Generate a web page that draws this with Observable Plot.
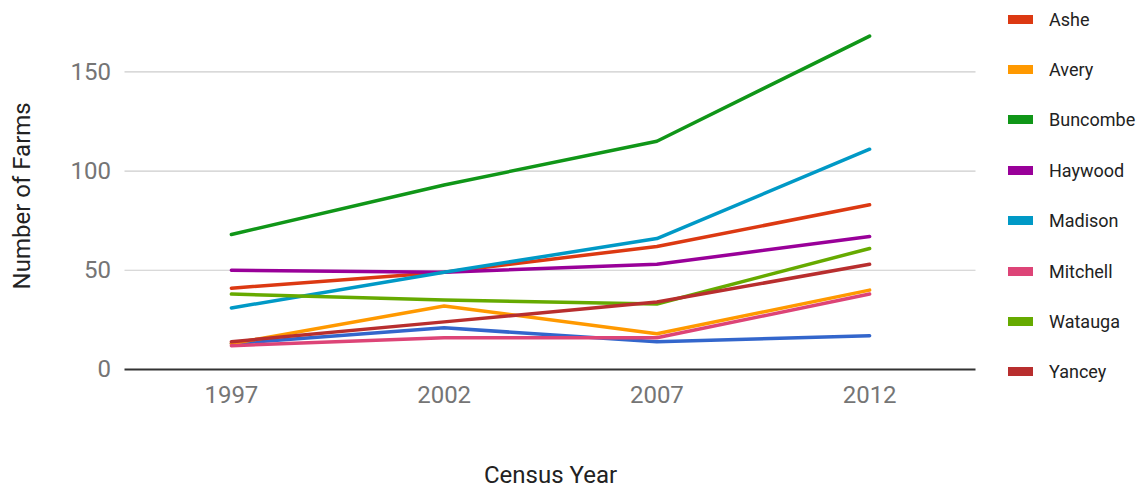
<!DOCTYPE html>
<html>
<head>
<meta charset="utf-8">
<script src="https://cdn.jsdelivr.net/npm/d3@7"></script>
<script src="https://cdn.jsdelivr.net/npm/@observablehq/plot@0.6"></script>
<style>
  html, body { margin: 0; padding: 0; background: #fff; }
  #wrap { position: relative; width: 1141px; height: 489px; font-family: Roboto, "Noto Sans", sans-serif; }
  #chart { position: absolute; left: 0; top: 0; }
  #legend { position: absolute; left: 1008px; top: 0; }
  .item { position: absolute; left: 0; height: 20px; display: flex; align-items: center; white-space: nowrap; }
  .swatch { width: 25px; height: 9px; margin-right: 16px; }
  .name { font-size: 18px; color: #222; }
</style>
</head>
<body>
<div id="wrap">
  <div id="chart"></div>
  <div id="legend"></div>
</div>
<script>
// Census years on the x axis
const years = [1997, 2002, 2007, 2012];

// Number of farms per county, one value per census year
const other    = [13, 21, 14, 17];
const ashe     = [41, 49, 62, 83];
const avery    = [13, 32, 18, 40];
const buncombe = [68, 93, 115, 168];
const haywood  = [50, 49, 53, 67];
const madison  = [31, 49, 66, 111];
const mitchell = [12, 16, 16, 38];
const watauga  = [38, 35, 33, 61];
const yancey   = [14, 24, 34, 53];

// Series in drawing order; the first one has no legend entry
const seriesNames = ["Other", "Ashe", "Avery", "Buncombe", "Haywood", "Madison", "Mitchell", "Watauga", "Yancey"];
const seriesValues = [other, ashe, avery, buncombe, haywood, madison, mitchell, watauga, yancey];
const legendNames = ["Ashe", "Avery", "Buncombe", "Haywood", "Madison", "Mitchell", "Watauga", "Yancey"];
const palette = ["#3366cc", "#dc3912", "#ff9900", "#109618", "#990099", "#0099c6", "#dd4477", "#66aa00", "#b82e2e"];

const yTicks = [0, 50, 100, 150];

const rows = seriesNames.flatMap((name, i) =>
  years.map((year, j) => ({county: name, year, farms: seriesValues[i][j]}))
);

const plot = Plot.plot({
  width: 990,
  height: 489,
  marginLeft: 124.5,
  marginRight: 14.5,
  marginTop: 21.7,
  marginBottom: 120,
  style: {fontFamily: "Roboto, 'Noto Sans', sans-serif", background: "#fff"},
  x: {domain: [1994.5, 2014.5]},
  y: {domain: [0, 175]},
  color: {domain: seriesNames, range: palette},
  marks: [
    Plot.gridY(yTicks.filter(d => d > 0), {stroke: "#cccccc", strokeOpacity: 1, strokeWidth: 1.2}),
    Plot.axisY(yTicks, {
      tickSize: 0, tickPadding: 14, fontSize: 24, color: "#757575",
      label: "Number of Farms", labelAnchor: "center", labelArrow: "none", labelOffset: 112
    }),
    Plot.axisX(years, {
      tickSize: 0, tickPadding: 16, fontSize: 24, color: "#757575", tickFormat: d => String(d),
      label: null
    }),
    Plot.text(["Census Year"], {
      frameAnchor: "bottom", dy: 113, fontSize: 24, fill: "#222"
    }),
    Plot.ruleY([0], {stroke: "#333", strokeWidth: 2}),
    Plot.line(rows, {x: "year", y: "farms", z: "county", stroke: "county", strokeWidth: 3.5, strokeLinejoin: "round"})
  ]
});

// The y-axis title is darker than its tick labels
plot.querySelectorAll("[aria-label='y-axis label'] text, [aria-label='y-axis label']").forEach(el => el.setAttribute("fill", "#222"));

document.getElementById("chart").appendChild(plot);

// Legend built from the plot's own colour scale
const color = plot.scale("color");
const legend = document.getElementById("legend");
legendNames.forEach((name, i) => {
  const item = document.createElement("div");
  item.className = "item";
  item.style.top = (9 + i * 50.4) + "px";
  const sw = document.createElement("div");
  sw.className = "swatch";
  sw.style.background = color.apply(name);
  const label = document.createElement("span");
  label.className = "name";
  label.textContent = name;
  item.appendChild(sw);
  item.appendChild(label);
  legend.appendChild(item);
});
</script>
</body>
</html>
